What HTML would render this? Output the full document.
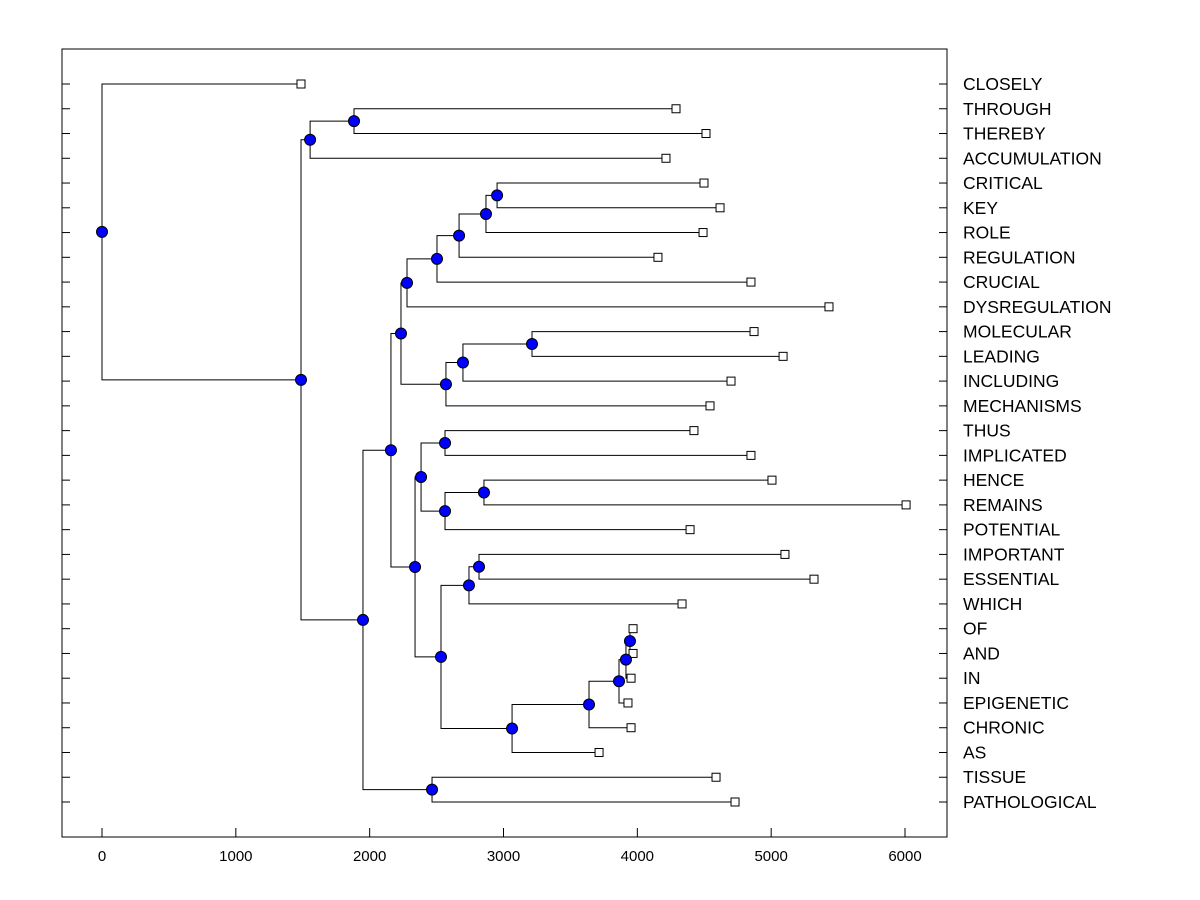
<!DOCTYPE html>
<html><head><meta charset="utf-8"><style>
html,body{margin:0;padding:0;background:#fff;}
svg{display:block;font-family:"Liberation Sans",Arial,sans-serif;}
</style></head><body>
<svg id="chart" width="1200" height="900" viewBox="0 0 1200 900" xmlns="http://www.w3.org/2000/svg"></svg>
<script>
const leafLabels = ["CLOSELY","THROUGH","THEREBY","ACCUMULATION","CRITICAL","KEY","ROLE","REGULATION","CRUCIAL","DYSREGULATION","MOLECULAR","LEADING","INCLUDING","MECHANISMS","THUS","IMPLICATED","HENCE","REMAINS","POTENTIAL","IMPORTANT","ESSENTIAL","WHICH","OF","AND","IN","EPIGENETIC","CHRONIC","AS","TISSUE","PATHOLOGICAL"];
const leafHeights = [1487,4289,4513,4214,4498,4618,4491,4154,4849,5432,4872,5089,4700,4543,4423,4849,5006,6008,4394,5103,5320,4334,3968,3968,3953,3930,3953,3714,4588,4730];
const kids=[
 ["L4","L5"],["N0","L6"],["N1","L7"],["N2","L8"],["N3","L9"],
 ["L10","L11"],["N5","L12"],["N6","L13"],["N4","N7"],
 ["L14","L15"],["L16","L17"],["N10","L18"],["N9","N11"],
 ["L19","L20"],["N13","L21"],
 ["L22","L23"],["N15","L24"],["N16","L25"],["N17","L26"],["N18","L27"],
 ["N14","N19"],["N12","N20"],["N8","N21"],
 ["L1","L2"],["N23","L3"],["L28","L29"],["N22","N25"],["N24","N26"],["L0","N27"]
];
const heights=[2952,2869,2668,2503,2279,3213,2697,2570,2234,2563,2854,2563,2384,2817,2742,3945,3915,3863,3639,3064,2533,2339,2159,1883,1555,2466,1950,1487,0];
const xTicks = [0,1000,2000,3000,4000,5000,6000];

const NS="http://www.w3.org/2000/svg";
const svg=document.getElementById('chart');
const X0=62,X1=947,Y0=49,Y1=837;
function xs(v){return 102+v*(905-102)/6000;}
function ys(i){return 84+i*(802-84)/29;}
function mk(t,a){const e=document.createElementNS(NS,t);for(const k in a)e.setAttribute(k,a[k]);svg.appendChild(e);return e;}

const pos={};
for(let i=0;i<leafHeights.length;i++)pos["L"+i]={x:xs(leafHeights[i]),y:ys(i)};
for(let j=0;j<kids.length;j++){
  const a=pos[kids[j][0]],b=pos[kids[j][1]];
  pos["N"+j]={x:xs(heights[j]),y:(a.y+b.y)/2};
}

const fr=mk('rect',{x:X0,y:Y0,width:X1-X0,height:Y1-Y0,fill:'none',stroke:'#000','stroke-width':1});



for(let i=0;i<leafLabels.length;i++){
  const y=ys(i);
  const t1=mk('line',{x1:X0,y1:y,x2:X0+8,y2:y,stroke:'#000'});
  
  
  const t2=mk('line',{x1:X1-8,y1:y,x2:X1,y2:y,stroke:'#000'});
  
  
  const tx=mk('text',{x:963,y:y+6,'font-size':17.5,fill:'#000'});
  tx.textContent=leafLabels[i];
  
  
}
for(const v of xTicks){
  const x=xs(v);
  const t=mk('line',{x1:x,y1:Y1,x2:x,y2:Y1-9,stroke:'#000'});
  
  
  const tx=mk('text',{x:x,y:861,'font-size':15,'text-anchor':'middle',fill:'#000'});
  tx.textContent=String(v);
  
  
}
for(let j=0;j<kids.length;j++){
  const n=pos["N"+j],a=pos[kids[j][0]],b=pos[kids[j][1]];
  const p=mk('path',{d:`M${a.x},${a.y}H${n.x}V${b.y}H${b.x}`,fill:'none',stroke:'#000','stroke-width':1});
  
  
}
for(let i=0;i<leafHeights.length;i++){
  const p=pos["L"+i];
  const r=mk('rect',{x:p.x-4,y:p.y-4,width:8,height:8,fill:'#fff',stroke:'#000','stroke-width':1});
  
  
}
for(let j=0;j<kids.length;j++){
  const p=pos["N"+j];
  const c=mk('circle',{cx:p.x,cy:p.y,r:5.5,fill:'#0000ff',stroke:'#000','stroke-width':1});
  
  
}
</script>
</body></html>
